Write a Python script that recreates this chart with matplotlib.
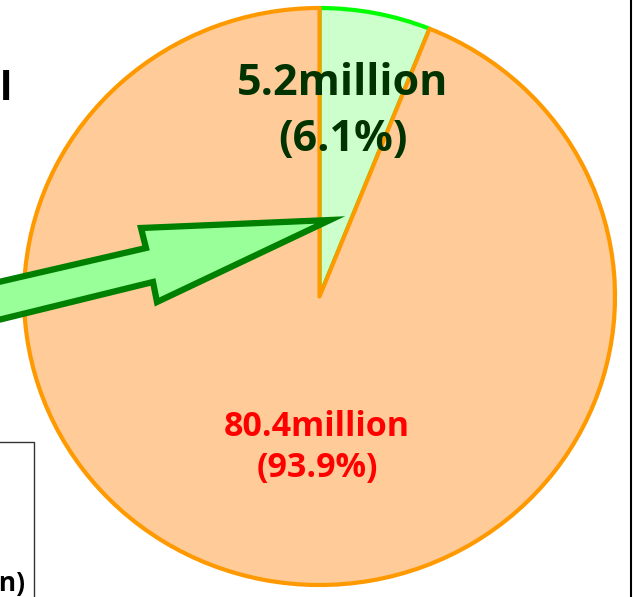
import matplotlib.pyplot as plt
from matplotlib.patches import Polygon, Rectangle

# data
values = [5.2, 80.4]                 # million
names = ["5.2million", "80.4million"]
fills = ["#CCFFCC", "#FFCC99"]
edges = ["#00FF00", "#FF9900"]
text_colors = ["#003300", "#FF0000"]

W, H = 633, 597
fig = plt.figure(figsize=(W / 100, H / 100), dpi=100)

# pie (slightly elliptic, as in the source picture)
ax = fig.add_axes([24 / W, (H - 585) / H, 591 / W, 577 / H])
wedges, _ = ax.pie(values, startangle=90, counterclock=False, colors=fills,
                   wedgeprops=dict(linewidth=3, joinstyle='round'))
for w, ec in zip(wedges, edges):
    w.set_edgecolor(ec)
ax.set_aspect('auto')
ax.set_xlim(-1, 1)
ax.set_ylim(-1, 1)

total = sum(values)
pct = [v / total * 100 for v in values]

ax.text(0.078, 0.74, names[0], ha='center', va='center', fontsize=31,
        fontweight='bold', color=text_colors[0], family='Open Sans')
ax.text(0.078, 0.545, "(%.1f%%)" % pct[0], ha='center', va='center', fontsize=31,
        fontweight='bold', color=text_colors[0], family='Open Sans')
ax.text(-0.008, -0.452, names[1], ha='center', va='center', fontsize=24.5,
        fontweight='bold', color=text_colors[1], family='Open Sans')
ax.text(-0.008, -0.595, "(%.1f%%)" % pct[1], ha='center', va='center', fontsize=24.5,
        fontweight='bold', color=text_colors[1], family='Open Sans')

# overlay in pixel coordinates: arrow, cut-off box and texts
ov = fig.add_axes([0, 0, 1, 1])
ov.set_xlim(0, W)
ov.set_ylim(H, 0)
ov.axis('off')
ov.patch.set_alpha(0)

arrow = [(-10, 284), (146, 248), (141, 228), (330, 220),
         (157, 302), (153, 282), (-10, 322)]
ov.add_patch(Polygon(arrow, closed=True, facecolor='#99FF99',
                     edgecolor='#008000', linewidth=4.5, joinstyle='miter'))

ov.add_patch(Rectangle((-5, 442), 39, 170, facecolor='white',
                       edgecolor='#333333', linewidth=1))
ov.text(25, 591, "(million)", ha='right', va='baseline', fontsize=19,
        fontweight='bold', family='Open Sans')
ov.text(13, 100, "Total", ha='right', va='baseline', fontsize=29,
        fontweight='bold', family='Open Sans')
ov.plot([631, 631], [0, H], color='black', linewidth=1.5)

fig.savefig('out.png', dpi=100)
